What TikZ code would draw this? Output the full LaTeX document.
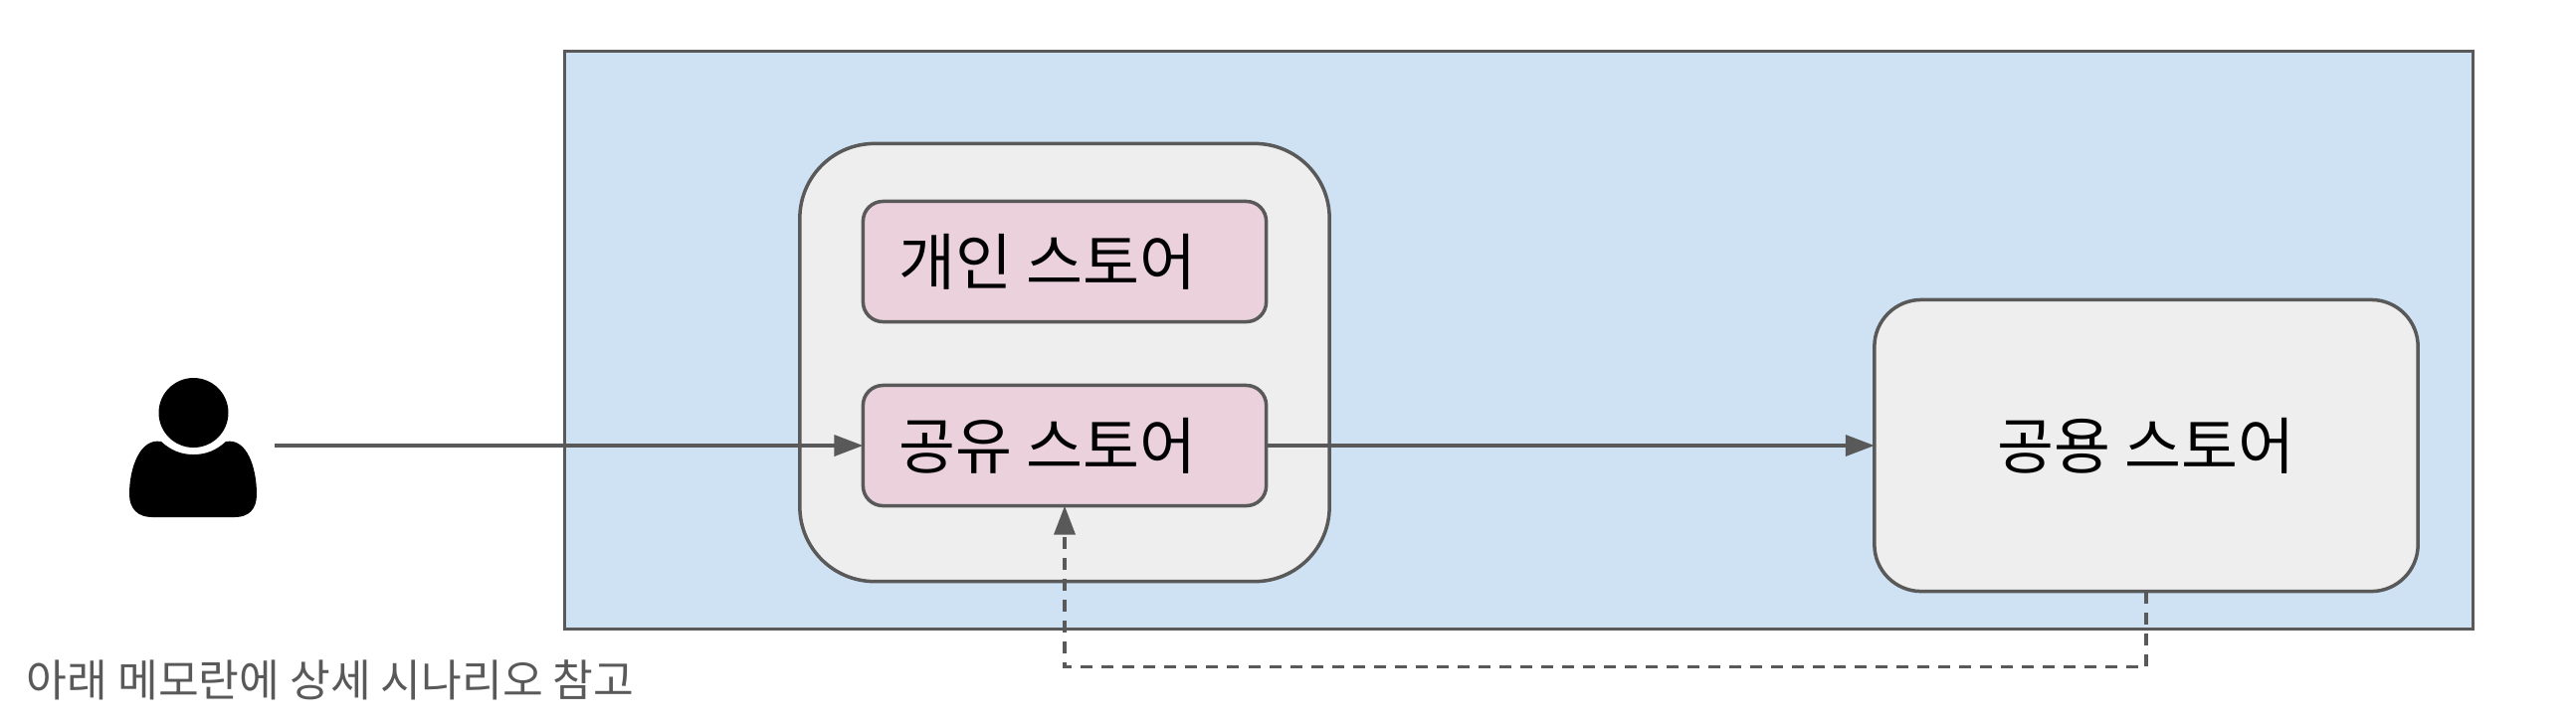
\documentclass[tikz,border=0pt]{standalone}
\usepackage{fontspec}
\setmainfont{Noto Sans CJK KR}
\usetikzlibrary{arrows.meta}
\definecolor{linegray}{HTML}{595959}
\definecolor{zoneblue}{HTML}{CFE2F3}
\definecolor{groupgray}{HTML}{EEEEEE}
\definecolor{storepink}{HTML}{EAD1DC}
\begin{document}
\begin{tikzpicture}[x=0.01cm, y=0.01cm]
\tikzstyle{every node}+=[inner sep=0pt, outer sep=0pt, line width=0.035cm]
\tikzstyle{storebox}=[draw=linegray, fill=storepink, rounded corners=0.2cm, minimum width=4.05cm, minimum height=1.21cm, font=\fontsize{17.6pt}{20pt}\selectfont]
\tikzstyle{flow}=[draw=linegray, line width=0.035cm, -{Triangle[length=0.29cm, width=0.21cm]}]
\useasboundingbox (0,0) rectangle (2589,-729);
\node [draw=linegray, fill=zoneblue, minimum width=19.17cm, minimum height=5.81cm] (zone) at (1526.5,-342) {};
\node [draw=linegray, fill=groupgray, rounded corners=0.75cm, minimum width=5.32cm, minimum height=4.4cm] (group) at (1070,-364.5) {};
\node [storebox] (personal) at (1070,-263) {개인 스토어\hspace*{0.34cm}};
\node [storebox] (shared) at (1070,-448) {공유 스토어\hspace*{0.34cm}};
\node [draw=linegray, fill=groupgray, rounded corners=0.47cm, minimum width=5.46cm, minimum height=2.93cm, font=\fontsize{17.6pt}{20pt}\selectfont] (public) at (2157,-448) {공용 스토어};
\fill [black] (194.5,-415) circle (35);
\fill [black] (162,-444) .. controls (172,-453) and (182,-457) .. (194.5,-457) .. controls (207,-457) and (217,-453) .. (227,-444) .. controls (248,-440) and (258,-470) .. (258,-497) .. controls (258,-512) and (250,-520) .. (236,-520) -- (153,-520) .. controls (139,-520) and (130,-512) .. (130,-497) .. controls (130,-470) and (141,-440) .. (162,-444) -- cycle;
\coordinate (user) at (276,-448);
\draw [flow] (user) -- (shared);
\draw [flow] (shared) -- (public);
\draw [flow, dash pattern=on 0.12cm off 0.09cm] (public.south) -- ++(0,-76) -| (shared.south);
\node [anchor=west, text=linegray, font=\fontsize{12.6pt}{15pt}\selectfont] (note) at (27,-684) {아래 메모란에 상세 시나리오 참고};
\end{tikzpicture}
\end{document}
